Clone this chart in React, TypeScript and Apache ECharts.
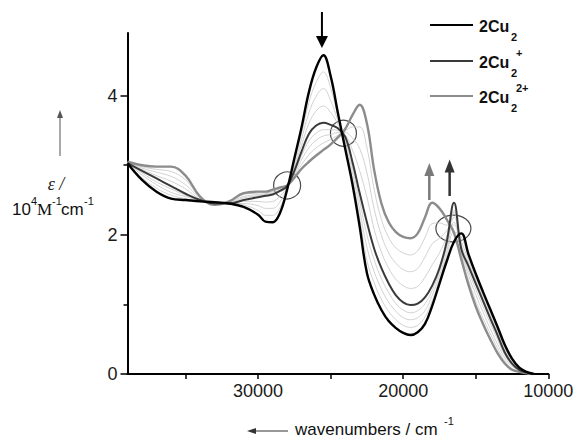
import React, { useEffect, useRef } from "react";
import * as echarts from "echarts";

// wavenumber grid (cm^-1)
const wavenumbers = [
  39000, 38000, 37000, 36000, 35000, 34000, 33000, 32000, 31000, 30000, 29500, 29000,
  28500, 28000, 27500, 27000, 26500, 26000, 25500, 25000, 24500, 24000, 23500, 23000,
  22500, 22000, 21500, 21000, 20500, 20000, 19500, 19000, 18500, 18000, 17500, 17000,
  16500, 16000, 15500, 15000, 14500, 14000, 13500, 13000, 12500, 12000, 11500, 11000,
];

// 2Cu2 (black)
const cu2 = [
  3.03, 2.79, 2.62, 2.52, 2.5, 2.48, 2.47, 2.45, 2.4, 2.29, 2.19, 2.18,
  2.31, 2.65, 3.1, 3.55, 4.05, 4.4, 4.58, 4.28, 3.75, 3.24, 2.73, 2.12,
  1.45, 1.14, 0.92, 0.76, 0.66, 0.59, 0.56, 0.6, 0.72, 0.98, 1.3, 1.62,
  1.9, 2.02, 1.72, 1.44, 1.18, 0.93, 0.68, 0.42, 0.22, 0.09, 0.03, 0.0,
];

// 2Cu2+ (dark grey)
const cu2plus = [
  3.03, 2.92, 2.81, 2.7, 2.59, 2.5, 2.45, 2.45, 2.5, 2.54, 2.56, 2.58,
  2.63, 2.7, 2.92, 3.2, 3.45, 3.57, 3.61, 3.58, 3.53, 3.41, 3.05, 2.6,
  2.18, 1.8, 1.52, 1.3, 1.13, 1.03, 0.99, 1.01, 1.1, 1.27, 1.52, 1.9,
  2.46, 1.8, 1.55, 1.3, 1.05, 0.8, 0.56, 0.31, 0.15, 0.06, 0.02, 0.0,
];

// 2Cu2 2+ (light grey)
const cu2dplus = [
  3.05, 3.0, 2.98, 2.98, 2.85, 2.55, 2.43, 2.48, 2.6, 2.62, 2.62, 2.65,
  2.68, 2.71, 2.82, 2.95, 3.05, 3.14, 3.22, 3.3, 3.4, 3.52, 3.72, 3.87,
  3.6, 2.93, 2.45, 2.18, 2.04, 1.97, 1.95, 2.02, 2.25, 2.46, 2.38, 2.22,
  2.03, 1.65, 1.28, 0.97, 0.72, 0.5, 0.3, 0.15, 0.06, 0.03, 0.01, 0.0,
];

// thin intermediate traces, first step (2Cu2 -> 2Cu2+)
const traceA1 = [
  3.03, 2.82, 2.67, 2.57, 2.52, 2.48, 2.47, 2.45, 2.43, 2.35, 2.28, 2.28,
  2.39, 2.66, 3.06, 3.46, 3.9, 4.19, 4.34, 4.11, 3.7, 3.28, 2.81, 2.24,
  1.63, 1.31, 1.07, 0.9, 0.78, 0.7, 0.67, 0.7, 0.82, 1.05, 1.36, 1.69,
  2.04, 1.97, 1.68, 1.41, 1.15, 0.9, 0.65, 0.39, 0.2, 0.08, 0.03, 0.0,
];
const traceA2 = [
  3.03, 2.86, 2.72, 2.61, 2.55, 2.49, 2.46, 2.45, 2.45, 2.42, 2.38, 2.38,
  2.47, 2.68, 3.01, 3.38, 3.75, 3.99, 4.1, 3.93, 3.64, 3.33, 2.89, 2.36,
  1.82, 1.47, 1.22, 1.03, 0.9, 0.81, 0.78, 0.81, 0.91, 1.13, 1.41, 1.76,
  2.18, 1.91, 1.64, 1.37, 1.12, 0.87, 0.62, 0.37, 0.19, 0.08, 0.03, 0.0,
];
const traceA3 = [
  3.03, 2.89, 2.76, 2.66, 2.57, 2.5, 2.46, 2.45, 2.48, 2.48, 2.47, 2.48,
  2.55, 2.69, 2.97, 3.29, 3.6, 3.78, 3.85, 3.76, 3.59, 3.37, 2.97, 2.48,
  2.0, 1.64, 1.37, 1.17, 1.01, 0.92, 0.88, 0.91, 1.01, 1.2, 1.47, 1.83,
  2.32, 1.86, 1.59, 1.34, 1.08, 0.83, 0.59, 0.34, 0.17, 0.07, 0.02, 0.0,
];

// thin intermediate traces, second step (2Cu2+ -> 2Cu2 2+)
const traceB1 = [
  3.03, 2.94, 2.85, 2.77, 2.66, 2.51, 2.45, 2.46, 2.53, 2.56, 2.58, 2.6,
  2.64, 2.7, 2.9, 3.14, 3.35, 3.46, 3.51, 3.51, 3.5, 3.44, 3.22, 2.92,
  2.54, 2.08, 1.75, 1.52, 1.36, 1.27, 1.23, 1.26, 1.39, 1.57, 1.74, 1.98,
  2.35, 1.76, 1.48, 1.22, 0.97, 0.73, 0.5, 0.27, 0.13, 0.05, 0.02, 0.0,
];
const traceB2 = [
  3.04, 2.96, 2.9, 2.84, 2.72, 2.53, 2.44, 2.47, 2.55, 2.58, 2.59, 2.62,
  2.66, 2.7, 2.87, 3.08, 3.25, 3.36, 3.42, 3.44, 3.47, 3.47, 3.39, 3.24,
  2.89, 2.37, 1.99, 1.74, 1.59, 1.5, 1.47, 1.52, 1.68, 1.87, 1.95, 2.06,
  2.25, 1.73, 1.42, 1.14, 0.89, 0.65, 0.43, 0.23, 0.11, 0.05, 0.02, 0.0,
];
const traceB3 = [
  3.04, 2.98, 2.94, 2.91, 2.79, 2.54, 2.44, 2.47, 2.58, 2.6, 2.61, 2.63,
  2.67, 2.71, 2.85, 3.01, 3.15, 3.25, 3.32, 3.37, 3.43, 3.49, 3.55, 3.55,
  3.25, 2.65, 2.22, 1.96, 1.81, 1.74, 1.71, 1.77, 1.96, 2.16, 2.17, 2.14,
  2.14, 1.69, 1.35, 1.05, 0.8, 0.58, 0.37, 0.19, 0.08, 0.04, 0.01, 0.0,
];

const xMajorTicks = [10000, 20000, 30000];
const xAllTicks = [10000, 15000, 20000, 25000, 30000, 35000];
const yMajorTicks = [0, 2, 4];
const yMinorTicks = [1, 3];

const SANS = '"Liberation Sans", Arial, sans-serif';
const SERIF = '"Liberation Serif", "Times New Roman", serif';

const toData = (vals: number[]) => wavenumbers.map((w, i) => [w, vals[i]]);

export default function App() {
  const ref = useRef<HTMLDivElement>(null);

  useEffect(() => {
    const chart = echarts.init(ref.current!, null, { renderer: "svg" });

    const thin = (name: string, vals: number[]) => ({
      name,
      type: "line",
      data: toData(vals),
      showSymbol: false,
      smooth: 0.4,
      lineStyle: { color: "#c6c6c6", width: 0.8 },
      z: 1,
    });
    const main = (name: string, vals: number[], color: string, width: number, z: number) => ({
      name,
      type: "line",
      data: toData(vals),
      showSymbol: false,
      smooth: 0.4,
      lineStyle: { color, width },
      z,
    });

    chart.setOption({
      animation: false,
      backgroundColor: "#ffffff",
      grid: { left: 127.5, right: 28.7, top: 33, bottom: 66, containLabel: false },
      xAxis: {
        type: "value",
        min: 10000,
        max: 39000,
        inverse: true,
        axisLine: { show: true, lineStyle: { color: "#000", width: 2 } },
        axisTick: { show: true, customValues: xAllTicks, length: 5, lineStyle: { color: "#000", width: 1.5 } },
        axisLabel: {
          customValues: xMajorTicks,
          margin: 8,
          color: "#1a1a1a",
          fontSize: 18,
          fontFamily: SANS,
          formatter: (v: number) => String(v),
        },
        splitLine: { show: false },
      },
      yAxis: [
        {
          type: "value",
          min: 0,
          max: 4.9,
          axisLine: { show: true, lineStyle: { color: "#000", width: 2 } },
          axisTick: { show: true, customValues: yMajorTicks, length: 7, lineStyle: { color: "#000", width: 1.5 } },
          axisLabel: {
            customValues: yMajorTicks,
            margin: 10,
            color: "#1a1a1a",
            fontSize: 18,
            fontFamily: SANS,
            formatter: (v: number) => String(v),
          },
          splitLine: { show: false },
        },
        {
          type: "value",
          min: 0,
          max: 4.9,
          position: "left",
          axisLine: { show: false },
          axisTick: { show: true, customValues: yMinorTicks, length: 4, lineStyle: { color: "#000", width: 1.5 } },
          axisLabel: { show: false },
          splitLine: { show: false },
        },
      ],
      series: [
        thin("t1", traceA1),
        thin("t2", traceA2),
        thin("t3", traceA3),
        thin("t4", traceB1),
        thin("t5", traceB2),
        thin("t6", traceB3),
        main("2Cu2 2+", cu2dplus, "#8c8c8c", 2.4, 3),
        main("2Cu2+", cu2plus, "#3a3a3a", 2, 4),
        main("2Cu2", cu2, "#000000", 2.4, 5),
      ],
    });

    const px = (x: number, y: number) => chart.convertToPixel({ seriesIndex: 0 }, [x, y]) as number[];
    const c1 = px(28000, 2.71);
    const c2 = px(24120, 3.46);
    const c3 = px(16540, 2.09);
    const aBlack = px(25600, 0)[0];
    const aGrey = px(18200, 0)[0];
    const aDark = px(16800, 0)[0];

    const txt = (text: string, x: number, y: number, font: string, fill = "#111", align = "left") => ({
      type: "text",
      x,
      y,
      silent: true,
      style: { text, font, fill, align, verticalAlign: "middle" },
    });
    const arrowDown = (x: number, y0: number, tip: number, hw: number, hh: number, color: string, w: number) => [
      { type: "line", shape: { x1: x, y1: y0, x2: x, y2: tip - hh + 1 }, style: { stroke: color, lineWidth: w } },
      {
        type: "polygon",
        shape: { points: [[x - hw, tip - hh], [x + hw, tip - hh], [x, tip]] },
        style: { fill: color },
      },
    ];
    const arrowUp = (x: number, y0: number, tip: number, hw: number, hh: number, color: string, w: number) => [
      { type: "line", shape: { x1: x, y1: y0, x2: x, y2: tip + hh - 1 }, style: { stroke: color, lineWidth: w } },
      {
        type: "polygon",
        shape: { points: [[x - hw, tip + hh], [x + hw, tip + hh], [x, tip]] },
        style: { fill: color },
      },
    ];

    const legendRows = [
      { y: 25, color: "#000000", sup: "" },
      { y: 61, color: "#3a3a3a", sup: "+" },
      { y: 96, color: "#8c8c8c", sup: "2+" },
    ];
    const legendEls: any[] = [];
    legendRows.forEach((r) => {
      legendEls.push({ type: "line", shape: { x1: 430, y1: r.y, x2: 473, y2: r.y }, style: { stroke: r.color, lineWidth: 2 } });
      legendEls.push(txt("2Cu", 479, r.y + 1, `bold 16px ${SANS}`));
      legendEls.push(txt("2", 511, r.y + 12, `bold 11px ${SANS}`));
      if (r.sup) legendEls.push(txt(r.sup, 516, r.y - 8, `bold 11px ${SANS}`));
    });

    chart.setOption({
      graphic: [
        ...legendEls,
        { type: "circle", shape: { cx: c1[0], cy: c1[1], r: 13.5 }, style: { fill: "none", stroke: "#4a4a4a", lineWidth: 1.2 } },
        { type: "circle", shape: { cx: c2[0], cy: c2[1], r: 13 }, style: { fill: "none", stroke: "#4a4a4a", lineWidth: 1.2 } },
        { type: "ellipse", shape: { cx: c3[0], cy: c3[1], rx: 17.5, ry: 13.5 }, style: { fill: "none", stroke: "#4a4a4a", lineWidth: 1.2 } },
        ...arrowDown(aBlack, 12, 48, 6, 12, "#000000", 2),
        ...arrowUp(aGrey, 200, 163, 5, 13, "#7a7a7a", 2.5),
        ...arrowUp(aDark, 196, 159.5, 5, 13, "#333333", 2.5),
        // y-axis name
        ...arrowUp(60, 156, 110, 3, 8, "#555555", 1),
        txt("ε /", 56, 184, `italic 18px ${SERIF}`, "#222", "center"),
        txt("10", 12, 209, `17px ${SANS}`),
        txt("4", 31, 201, `11px ${SANS}`),
        txt("M", 37, 209, `17px ${SERIF}`),
        txt("-1", 52, 201, `11px ${SANS}`),
        txt("cm", 61, 209, `17px ${SANS}`),
        txt("-1", 84, 201, `11px ${SANS}`),
        // x-axis name
        { type: "line", shape: { x1: 288, y1: 431, x2: 254, y2: 431 }, style: { stroke: "#333", lineWidth: 1 } },
        { type: "polygon", shape: { points: [[247, 431], [256, 428], [256, 434]] }, style: { fill: "#333" } },
        txt("wavenumbers / cm", 295, 429, `17px ${SANS}`),
        txt("-1", 444, 421, `11px ${SANS}`),
      ],
    });

    return () => chart.dispose();
  }, []);

  return <div ref={ref} style={{ position: "fixed", left: 0, top: 0, width: 577, height: 440 }} />;
}
